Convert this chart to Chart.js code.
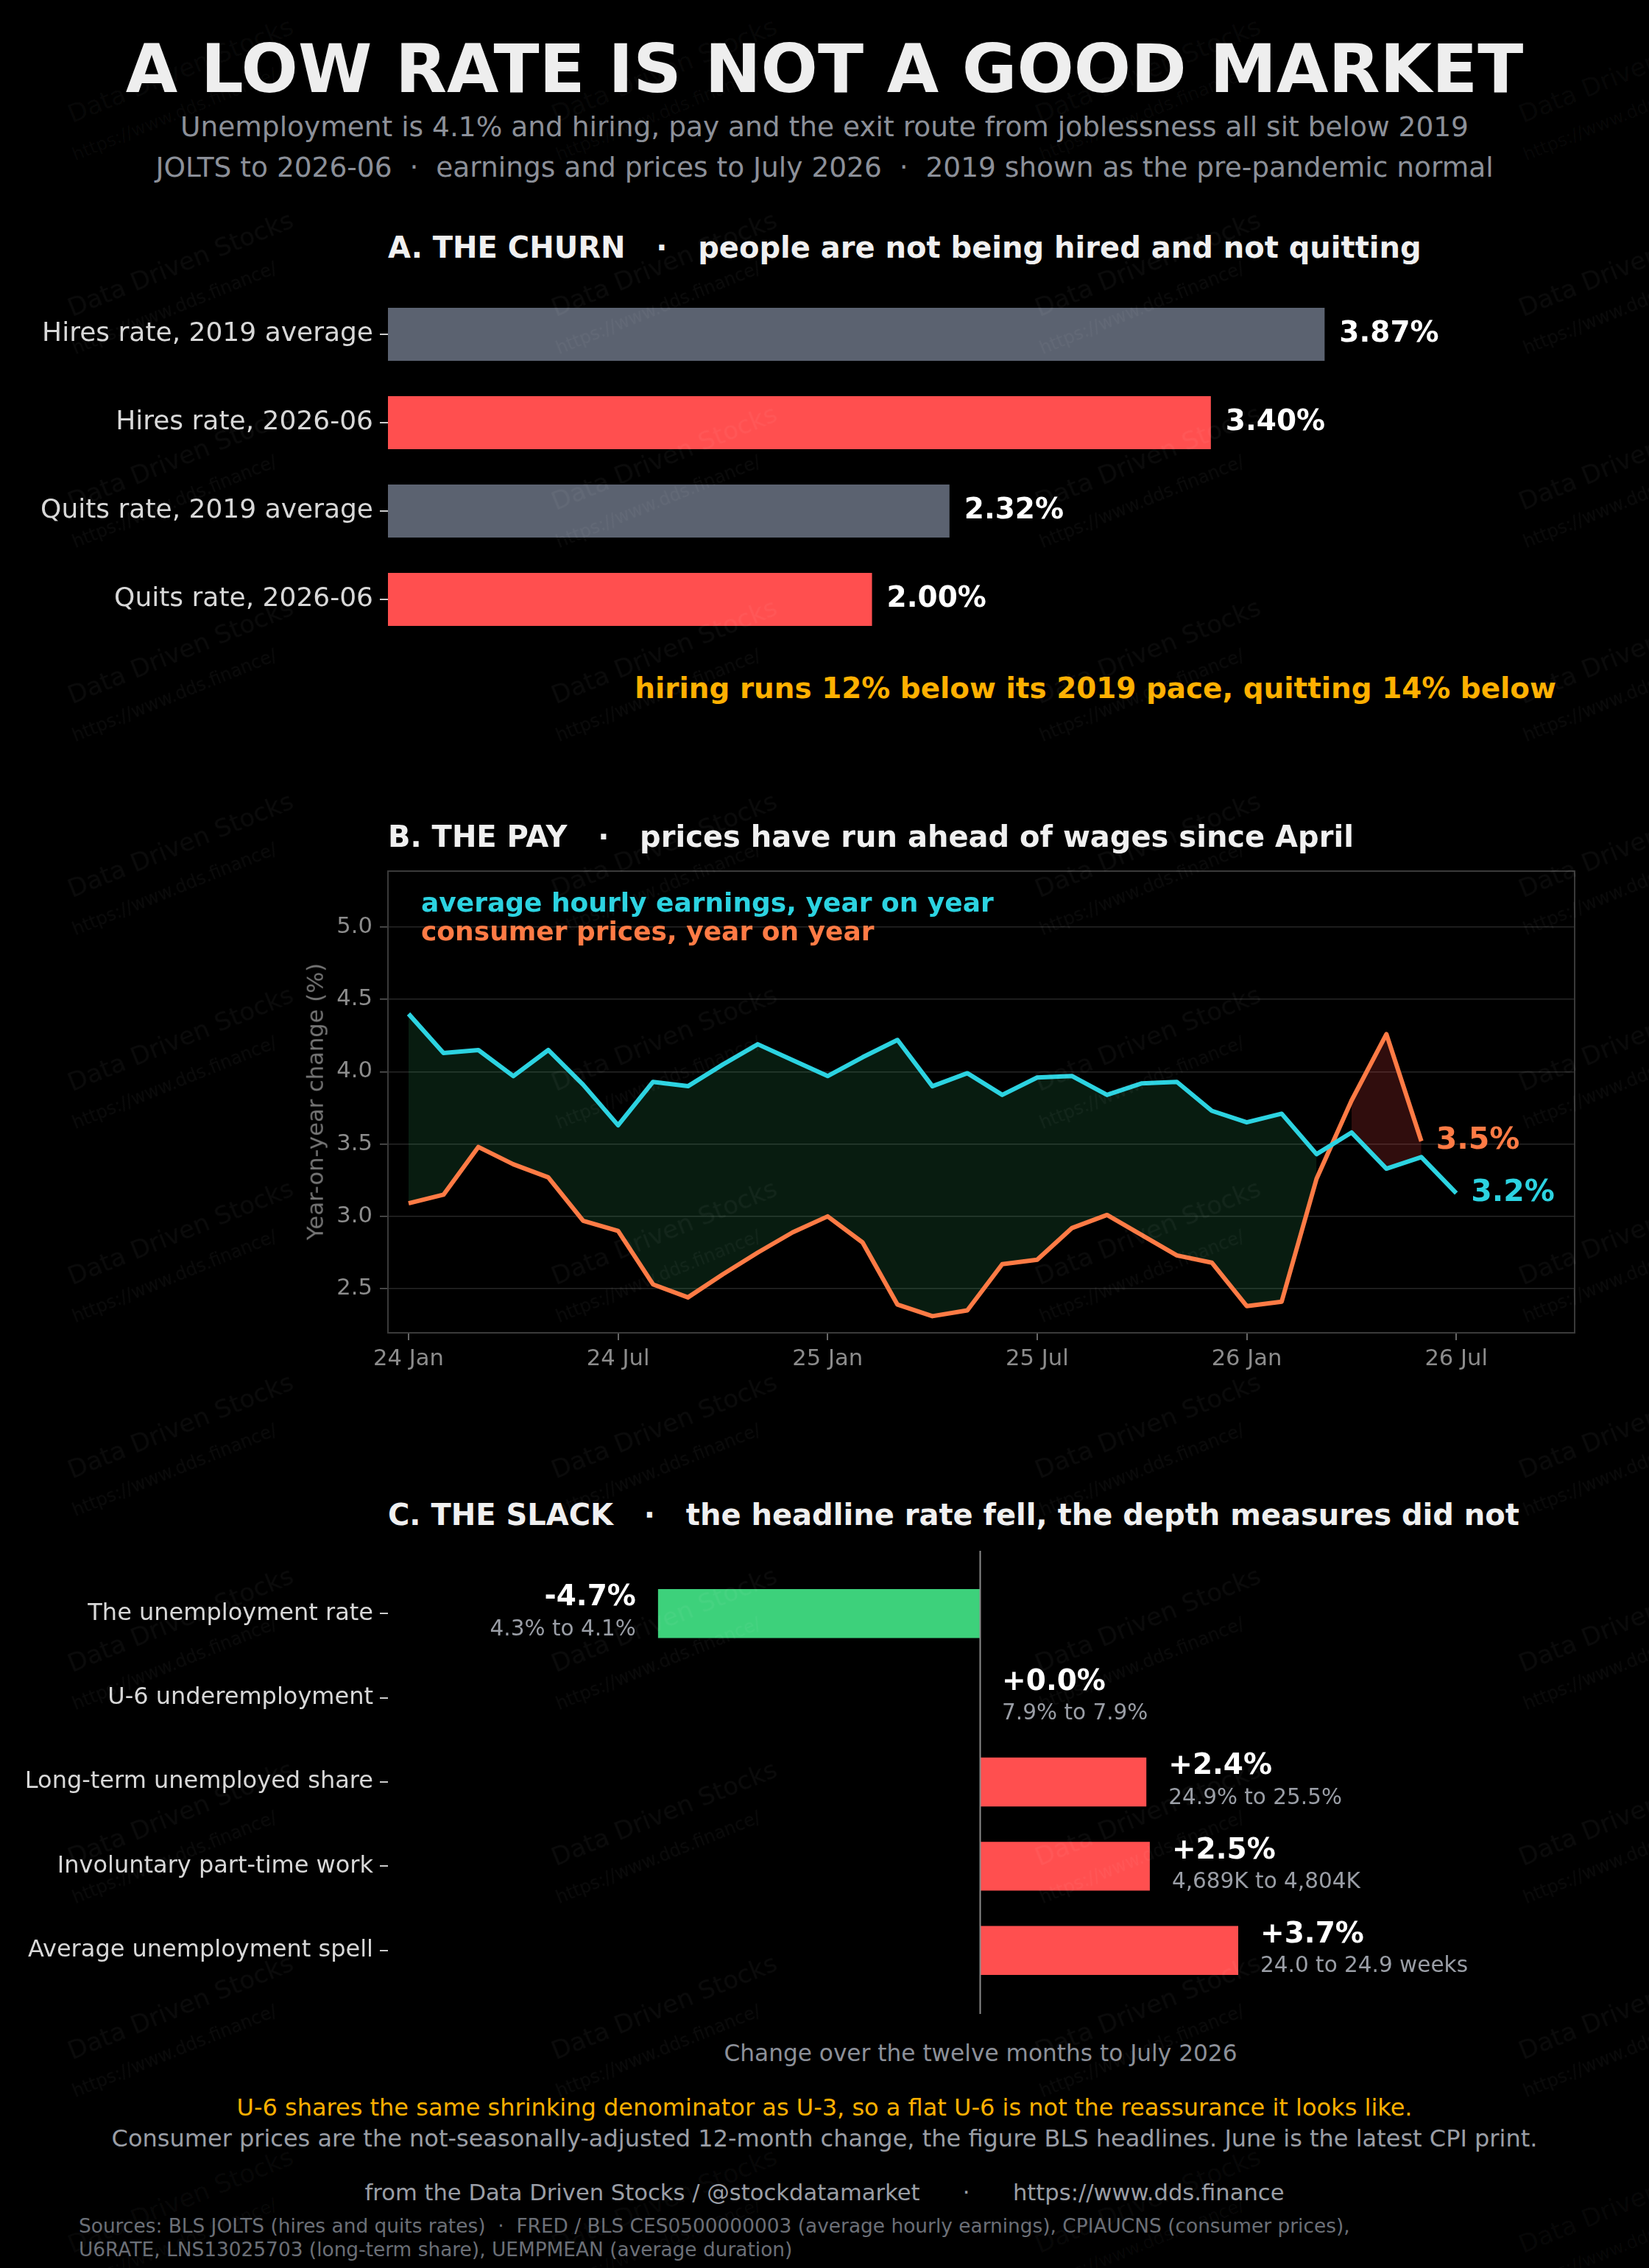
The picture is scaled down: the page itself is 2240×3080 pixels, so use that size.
<!DOCTYPE html>
<html>
<head>
<meta charset="utf-8">
<script src="https://cdn.jsdelivr.net/npm/chart.js@4.4.1/dist/chart.umd.min.js"></script>
<style>
  body { margin: 0; background: #000; width: 2240px; height: 3080px; overflow: hidden; position: relative; font-family: "DejaVu Sans", sans-serif; }
  .t { position: absolute; white-space: pre; line-height: 1; }
  canvas { position: absolute; left: 0; }
  .wm { position: absolute; width: 0; height: 0; transform-origin: 0 0; transform: rotate(-22deg); pointer-events: none; }
  .wm div { position: absolute; white-space: nowrap; color: rgba(255,255,255,0.045); transform: translate(-50%, -50%); }
</style>
</head>
<body>
<canvas id="churn" width="2240" height="510" style="top:380px"></canvas>
<canvas id="pay" width="2240" height="720" style="top:1150px"></canvas>
<canvas id="slack" width="2240" height="660" style="top:2090px"></canvas>
<script>
// ---- data ----
const churnLabels = ['Hires rate, 2019 average', 'Hires rate, 2026-06', 'Quits rate, 2019 average', 'Quits rate, 2026-06'];
const churnValues = [3.87, 3.40, 2.32, 2.00];

const months = ['2024-01','2024-02','2024-03','2024-04','2024-05','2024-06','2024-07','2024-08','2024-09','2024-10','2024-11','2024-12',
                '2025-01','2025-02','2025-03','2025-04','2025-05','2025-06','2025-07','2025-08','2025-09','2025-10','2025-11','2025-12',
                '2026-01','2026-02','2026-03','2026-04','2026-05','2026-06','2026-07'];
const earningsYoY = [4.40, 4.13, 4.15, 3.97, 4.15, 3.91, 3.63, 3.93, 3.90, 4.05, 4.19, 4.08,
                     3.97, 4.10, 4.22, 3.90, 3.99, 3.84, 3.96, 3.97, 3.84, 3.92, 3.93, 3.73,
                     3.65, 3.71, 3.43, 3.58, 3.33, 3.41, 3.16];
const pricesYoY = [3.09, 3.15, 3.48, 3.36, 3.27, 2.97, 2.90, 2.53, 2.44, 2.60, 2.75, 2.89,
                   3.00, 2.82, 2.39, 2.31, 2.35, 2.67, 2.70, 2.92, 3.01, 2.87, 2.73, 2.68,
                   2.38, 2.41, 3.26, 3.80, 4.26, 3.52];
const payTickPos = [0, 6, 12, 18, 24, 30];
const payTickLabels = ['24 Jan', '24 Jul', '25 Jan', '25 Jul', '26 Jan', '26 Jul'];
const payYTicks = [2.5, 3.0, 3.5, 4.0, 4.5, 5.0];

const slackLabels = ['The unemployment rate', 'U-6 underemployment', 'Long-term unemployed share', 'Involuntary part-time work', 'Average unemployment spell'];
const slackChange = [-4.66, 0.0, 2.41, 2.46, 3.74];
const slackRange = ['4.3% to 4.1%', '7.9% to 7.9%', '24.9% to 25.5%', '4,689K to 4,804K', '24.0 to 24.9 weeks'];

// ---- colours ----
const CYAN = '#2cd3e1', ORANGE = '#ff7b45', RED = '#ff4f4f', GREY_BAR = '#5b6270', GREEN = '#3dd17b', AMBER = '#ffb000';
const FONT = '"DejaVu Sans", sans-serif';
Chart.defaults.font.family = FONT;
Chart.defaults.animation = false;

// ---- page text ----
function addText(str, x, y, size, color, opts = {}) {
  const d = document.createElement('div');
  d.className = 't';
  d.textContent = str;
  d.style.left = x + 'px';
  d.style.top = y + 'px';
  d.style.fontSize = size + 'px';
  d.style.color = color;
  if (opts.bold) d.style.fontWeight = 'bold';
  const tx = opts.align === 'center' ? '-50%' : opts.align === 'right' ? '-100%' : '0';
  d.style.transform = `translate(${tx}, -50%)`;
  document.body.appendChild(d);
  return d;
}

addText('A LOW RATE IS NOT A GOOD MARKET', 1120, 93, 91, '#eeeeee', { bold: true, align: 'center' });
addText('Unemployment is 4.1% and hiring, pay and the exit route from joblessness all sit below 2019', 1120, 173, 37.5, '#8c9099', { align: 'center' });
addText('JOLTS to 2026-06  \u00b7  earnings and prices to July 2026  \u00b7  2019 shown as the pre-pandemic normal', 1120, 228, 37.5, '#8c9099', { align: 'center' });

addText('A. THE CHURN   \u00b7   people are not being hired and not quitting', 527, 336, 40, '#f0f0f0', { bold: true });
addText('hiring runs 12% below its 2019 pace, quitting 14% below', 2114, 935, 38.9, AMBER, { bold: true, align: 'right' });

addText('B. THE PAY   \u00b7   prices have run ahead of wages since April', 527, 1136, 40, '#f0f0f0', { bold: true });
addText('average hourly earnings, year on year', 572, 1226, 36, CYAN, { bold: true });
addText('consumer prices, year on year', 572, 1265, 36, ORANGE, { bold: true });
const yTitle = addText('Year-on-year change (%)', 429, 1496, 30.6, '#777777', { align: 'center' });
yTitle.style.transform = 'translate(-50%, -50%) rotate(-90deg)';

addText('C. THE SLACK   \u00b7   the headline rate fell, the depth measures did not', 527, 2057, 40, '#f0f0f0', { bold: true });
addText('Change over the twelve months to July 2026', 1332, 2789, 31.2, '#8c9099', { align: 'center' });

addText('U-6 shares the same shrinking denominator as U-3, so a flat U-6 is not the reassurance it looks like.', 1120, 2862, 32, AMBER, { align: 'center' });
addText('Consumer prices are the not-seasonally-adjusted 12-month change, the figure BLS headlines. June is the latest CPI print.', 1120, 2904, 32, '#9a9ea6', { align: 'center' });
addText('from the Data Driven Stocks / @stockdatamarket      \u00b7      https://www.dds.finance', 1120, 2978, 30.6, '#9a9ea6', { align: 'center' });
addText('Sources: BLS JOLTS (hires and quits rates)  \u00b7  FRED / BLS CES0500000003 (average hourly earnings), CPIAUCNS (consumer prices),', 107, 3023, 26.4, '#6b6f77');
addText('U6RATE, LNS13025703 (long-term share), UEMPMEAN (average duration)', 107, 3055, 26.4, '#6b6f77');

// category axes: fixed label gutter, no extra overhang padding
const fitCategoryAxis = (s) => { s.width = 527; s.paddingTop = 0; s.paddingBottom = 0; };

// ---- panel A: churn ----
new Chart(document.getElementById('churn'), {
  type: 'bar',
  data: {
    labels: churnLabels,
    datasets: [{
      data: churnValues,
      backgroundColor: churnValues.map((v, i) => i % 2 === 0 ? GREY_BAR : RED),
      barPercentage: 0.6,
      categoryPercentage: 1.0,
      borderWidth: 0
    }]
  },
  options: {
    indexAxis: 'y',
    responsive: false,
    devicePixelRatio: 1,
    layout: { padding: { top: 14, bottom: 16, right: 102, left: 0 } },
    plugins: { legend: { display: false }, tooltip: { enabled: false } },
    scales: {
      x: { display: false, min: 0, max: 4.9 },
      y: {
        afterFit: fitCategoryAxis,
        border: { display: false },
        grid: { drawOnChartArea: false, offset: false, tickLength: 11, tickColor: '#cccccc', lineWidth: 2 },
        ticks: { color: '#d8d8d8', font: { size: 36 }, padding: 9 }
      }
    }
  },
  plugins: [{
    id: 'churnValues',
    afterDatasetsDraw(chart) {
      const ctx = chart.ctx;
      ctx.save();
      ctx.font = 'bold 39px ' + FONT;
      ctx.fillStyle = '#ffffff';
      ctx.textBaseline = 'middle';
      chart.getDatasetMeta(0).data.forEach((bar, i) => {
        ctx.fillText(churnValues[i].toFixed(2) + '%', bar.x + 20, bar.y);
      });
      ctx.restore();
    }
  }]
});

// ---- panel B: pay ----
const toPts = (arr) => arr.map((v, i) => ({ x: i, y: v }));
const greenTop = earningsYoY.map((v, i) => (pricesYoY[i] != null && v >= pricesYoY[i]) ? v : null);
const greenBot = pricesYoY.map((v, i) => (v <= earningsYoY[i]) ? v : null);
const redTop = pricesYoY.map((v, i) => (v > earningsYoY[i]) ? v : null);
const redBot = earningsYoY.map((v, i) => (pricesYoY[i] != null && pricesYoY[i] > v) ? v : null);
const helper = (arr, fill, color) => ({
  data: toPts(arr), borderWidth: 0, borderColor: 'transparent', pointRadius: 0,
  fill: fill, backgroundColor: color, spanGaps: false
});

new Chart(document.getElementById('pay'), {
  type: 'line',
  data: {
    datasets: [
      { data: toPts(earningsYoY), borderColor: CYAN, borderWidth: 6, pointRadius: 0, tension: 0, fill: false, borderJoinStyle: 'round' },
      { data: toPts(pricesYoY), borderColor: ORANGE, borderWidth: 6, pointRadius: 0, tension: 0, fill: false, borderJoinStyle: 'round' },
      helper(greenTop, '+1', 'rgba(52, 190, 110, 0.15)'),
      helper(greenBot, false, 'transparent'),
      helper(redTop, '+1', 'rgba(255, 70, 70, 0.19)'),
      helper(redBot, false, 'transparent')
    ]
  },
  options: {
    responsive: false,
    devicePixelRatio: 1,
    layout: { padding: { top: 33, bottom: 0, right: 101, left: 0 } },
    plugins: { legend: { display: false }, tooltip: { enabled: false } },
    scales: {
      x: {
        type: 'linear', min: -0.59, max: 33.39,
        afterFit: (s) => { s.height = 60; },
        afterBuildTicks: (s) => { s.ticks = payTickPos.map(v => ({ value: v })); },
        border: { display: false },
        grid: { drawOnChartArea: false, tickLength: 10, tickColor: '#666666', lineWidth: 2 },
        ticks: { color: '#8c8c8c', font: { size: 30.6 }, padding: 8, autoSkip: false, maxRotation: 0,
                 callback: (v) => payTickLabels[payTickPos.indexOf(v)] }
      },
      y: {
        min: 2.195, max: 5.387,
        afterFit: (s) => { s.width = 527; },
        afterBuildTicks: (s) => { s.ticks = payYTicks.map(v => ({ value: v })); },
        border: { display: false },
        grid: { color: '#262626', lineWidth: 1.6, tickLength: 11, tickColor: '#555555' },
        ticks: { color: '#8c8c8c', font: { size: 30.6 }, padding: 10, callback: (v) => v.toFixed(1) }
      }
    }
  },
  plugins: [{
    id: 'payFrame',
    beforeDatasetsDraw(chart) {
      const { ctx, chartArea: a } = chart;
      ctx.save();
      ctx.strokeStyle = '#3a3a3a';
      ctx.lineWidth = 2;
      ctx.strokeRect(a.left, a.top, a.right - a.left, a.bottom - a.top);
      ctx.restore();
    },
    afterDatasetsDraw(chart) {
      const { ctx, scales: { x, y } } = chart;
      ctx.save();
      ctx.font = 'bold 41px ' + FONT;
      ctx.textBaseline = 'middle';
      const ends = [[pricesYoY, ORANGE], [earningsYoY, CYAN]];
      ends.forEach(([arr, col]) => {
        const i = arr.length - 1;
        ctx.fillStyle = col;
        ctx.fillText(arr[i].toFixed(1) + '%', x.getPixelForValue(i) + 20, y.getPixelForValue(arr[i]));
      });
      ctx.restore();
    }
  }]
});

// ---- panel C: slack ----
new Chart(document.getElementById('slack'), {
  type: 'bar',
  data: {
    labels: slackLabels,
    datasets: [{
      data: slackChange,
      backgroundColor: slackChange.map(v => v < 0 ? GREEN : RED),
      barPercentage: 0.58,
      categoryPercentage: 1.0,
      borderWidth: 0
    }]
  },
  options: {
    indexAxis: 'y',
    responsive: false,
    devicePixelRatio: 1,
    layout: { padding: { top: 44, bottom: 44, right: 102, left: 0 } },
    plugins: { legend: { display: false }, tooltip: { enabled: false } },
    scales: {
      x: { display: false, min: -8.57, max: 8.6 },
      y: {
        afterFit: fitCategoryAxis,
        border: { display: false },
        grid: { drawOnChartArea: false, offset: false, tickLength: 11, tickColor: '#cccccc', lineWidth: 2 },
        ticks: { color: '#d8d8d8', font: { size: 32 }, padding: 9 }
      }
    }
  },
  plugins: [{
    id: 'slackDecor',
    afterDatasetsDraw(chart) {
      const { ctx, chartArea: a, scales: { x } } = chart;
      ctx.save();
      const zx = Math.round(x.getPixelForValue(0)) + 0.5;
      ctx.strokeStyle = '#8a8a8a';
      ctx.lineWidth = 2;
      ctx.beginPath();
      ctx.moveTo(zx, a.top - 28);
      ctx.lineTo(zx, a.bottom + 29);
      ctx.stroke();
      ctx.textBaseline = 'middle';
      chart.getDatasetMeta(0).data.forEach((bar, i) => {
        const v = slackChange[i];
        const neg = v < 0;
        ctx.textAlign = neg ? 'right' : 'left';
        const tx = neg ? bar.x - 30 : bar.x + 30;
        ctx.font = 'bold 39px ' + FONT;
        ctx.fillStyle = '#ffffff';
        ctx.fillText((neg ? '' : '+') + v.toFixed(1) + '%', tx, bar.y - 21);
        ctx.font = '29.5px ' + FONT;
        ctx.fillStyle = '#9a9ea6';
        ctx.fillText(slackRange[i], tx, bar.y + 22);
      });
      ctx.restore();
    }
  }]
});

// ---- watermark ----
for (let r = 0; r < 12; r++) {
  for (let c = 0; c < 4; c++) {
    const w = document.createElement('div');
    w.className = 'wm';
    w.style.left = (245 + c * 657) + 'px';
    w.style.top = (95 + r * 263) + 'px';
    w.innerHTML = '<div style="left:0;top:0;font-size:34px">Data Driven Stocks</div>' +
                  '<div style="left:-30px;top:53px;font-size:24px">https://www.dds.finance/</div>';
    document.body.appendChild(w);
  }
}
</script>
</body>
</html>
